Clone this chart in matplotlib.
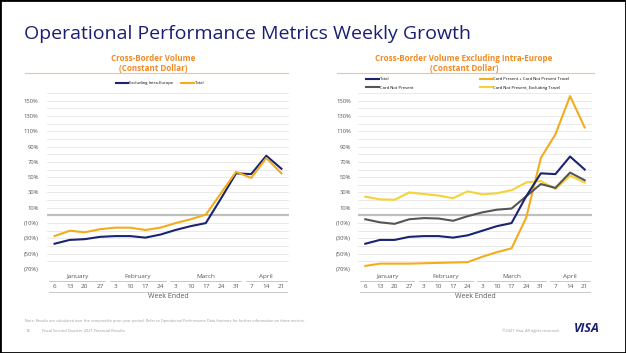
import matplotlib
matplotlib.use("Agg")
import matplotlib.pyplot as plt
from matplotlib.lines import Line2D
from matplotlib.patches import Rectangle

plt.rcParams['font.family'] = ['Open Sans', 'DejaVu Sans']

# week ending days and month groups
weeks = ['6', '13', '20', '27', '3', '10', '17', '24', '3', '10', '17', '24', '31', '7', '14', '21']
months = ['January', 'February', 'March', 'April']
month_counts = [4, 4, 5, 3]

# left chart: cross-border volume
excl_intra_europe = [-37, -32, -31, -28, -27, -27, -29, -25, -19, -14, -10, 22, 55, 54, 78, 61]
total_left = [-27, -20, -22, -18, -16, -16, -19, -16, -10, -5, 1, 29, 57, 49, 75, 55]

# right chart: cross-border volume excluding intra-europe
total_right = [-37, -32, -32, -28, -27, -27, -29, -26, -20, -14, -10, 25, 55, 54, 77, 60]
card_not_present = [-5, -9, -11, -5, -3.5, -4, -7, -1, 4, 7.5, 9, 25, 41, 36, 56, 46]
cp_cnp_travel = [-66, -63, -63, -63, -62.5, -62, -61.5, -61, -54, -48, -43, -3, 75, 106, 156, 115]
cnp_excl_travel = [24.5, 21, 20.5, 30, 28, 26, 22.5, 31.5, 27.5, 29, 33, 43, 45, 34.5, 52, 43]

NAVY = '#1a2470'
GOLD = '#f2ac1c'
YELLOW = '#f6d138'
GRAY = '#555555'
ORANGE = '#f08a24'

W, H = 626, 353
fig = plt.figure(figsize=(W / 100, H / 100), dpi=100)


def px(x, y):
    # pixel coords (top-left origin) -> figure fraction
    return x / W, 1 - y / H


def add_ax(x0, x1, y0, y1):
    l, t = px(x0, y0)
    r, b = px(x1, y1)
    return fig.add_axes([l, b, r - l, t - b])


def pct(v):
    v = int(v)
    return f'({-v}%)' if v < 0 else f'{v}%'


def setup(ax, pad):
    ax.set_xlim(-0.5, len(weeks) - 0.5)
    ax.set_ylim(-70, 160)
    for v in range(-70, 161, 10):
        if v == 0:
            ax.axhline(v, color='#bfbfbf', lw=1.6, zorder=1)
        else:
            ax.axhline(v, color='#e6e6e6', lw=0.6, zorder=0)
    ax.set_yticks(range(-70, 151, 20))
    ax.set_yticklabels([pct(v) for v in range(-70, 151, 20)])
    ax.tick_params(axis='y', length=0, labelsize=4.2, labelcolor='#595959', pad=pad)
    ax.set_xticks([])
    for s in ax.spines.values():
        s.set_visible(False)

    # two-level category axis
    tr = ax.get_xaxis_transform()
    start = 0
    for m, n in zip(months, month_counts):
        end = start + n - 1
        ax.text((start + end) / 2, -0.040, m, transform=tr, ha='center', va='center',
                fontsize=4.6, color='#595959')
        ax.add_line(Line2D([start - 0.35, end + 0.35], [-0.068, -0.068], transform=tr,
                           color='#bfbfbf', lw=0.6, clip_on=False))
        start += n
    for i, d in enumerate(weeks):
        ax.text(i, -0.102, d, transform=tr, ha='center', va='center',
                fontsize=4.6, color='#595959')
    ax.add_line(Line2D([-0.35, len(weeks) - 0.65], [-0.131, -0.131], transform=tr,
                       color='#bfbfbf', lw=0.6, clip_on=False))
    ax.text((len(weeks) - 1) / 2, -0.159, 'Week Ended', transform=tr, ha='center',
            va='center', fontsize=5, color='#595959')


x = list(range(len(weeks)))

# left chart
ax1 = add_ax(47, 289, 93, 269)
setup(ax1, 6)
ax1.plot(x, excl_intra_europe, color=NAVY, lw=1.5, label='Excluding Intra-Europe', zorder=3)
ax1.plot(x, total_left, color=GOLD, lw=1.5, label='Total', zorder=4)
ax1.legend(loc='center', bbox_to_anchor=px(160, 83), bbox_transform=fig.transFigure,
           ncol=2, frameon=False, fontsize=3, handlelength=3, handletextpad=0.2,
           columnspacing=2, borderpad=0)

# right chart
ax2 = add_ax(358, 592, 93, 269)
setup(ax2, 5)
l_tot, = ax2.plot(x, total_right, color=NAVY, lw=1.5, label='Total', zorder=5)
l_cnp, = ax2.plot(x, card_not_present, color=GRAY, lw=1.5, label='Card Not Present', zorder=4)
l_cp, = ax2.plot(x, cp_cnp_travel, color=GOLD, lw=1.5,
                 label='Card Present + Card Not Present Travel', zorder=3)
l_ex, = ax2.plot(x, cnp_excl_travel, color=YELLOW, lw=1.5,
                 label='Card Not Present, Excluding Travel', zorder=3)
ax2.legend(handles=[l_tot, l_cnp, l_cp, l_ex], loc='center',
           bbox_to_anchor=px(468, 83.5), bbox_transform=fig.transFigure,
           ncol=2, frameon=False, fontsize=3, handlelength=3, handletextpad=0.2,
           columnspacing=16, labelspacing=1.0, borderpad=0)

# titles
fig.text(*px(24, 39), 'Operational Performance Metrics Weekly Growth', fontsize=14,
         color='#1a1f71', ha='left', va='baseline')
fig.text(*px(153, 63.5), 'Cross-Border Volume\n(Constant Dollar)', fontsize=5.8,
         fontweight='bold', color=ORANGE, ha='center', va='center', linespacing=1.05)
fig.text(*px(464, 63.5), 'Cross-Border Volume Excluding Intra-Europe\n(Constant Dollar)',
         fontsize=5.8, fontweight='bold', color=ORANGE, ha='center', va='center',
         linespacing=1.05)
for x0, x1 in [(25, 288), (337, 594)]:
    (a, yy), (b, _) = px(x0, 73), px(x1, 73)
    fig.add_artist(Line2D([a, b], [yy, yy], color='#f5c08a', lw=0.8))

# footer
fig.text(*px(25, 321), 'Note: Results are calculated over the comparable prior-year period. '
         'Refer to Operational Performance Data footnote for further information on these metrics.',
         fontsize=2.7, color='#9a9a9a', ha='left', va='center')
fig.text(*px(26, 331), '14', fontsize=2.9, color='#9a9a9a', ha='left', va='center')
fig.text(*px(42, 331), 'Fiscal Second Quarter 2021 Financial Results', fontsize=2.9,
         color='#9a9a9a', ha='left', va='center')
fig.text(*px(531, 331), '\u00a92021 Visa. All rights reserved.', fontsize=2.9,
         color='#9a9a9a', ha='center', va='center')
fig.text(*px(587, 329), 'VISA', fontsize=9, fontweight='bold', fontstyle='italic',
         color='#1a1f71', ha='center', va='center')

fig.add_artist(Rectangle((0, 0), 1, 1, transform=fig.transFigure, fill=False,
                         edgecolor='black', lw=2))

fig.savefig('out.png', dpi=100)
